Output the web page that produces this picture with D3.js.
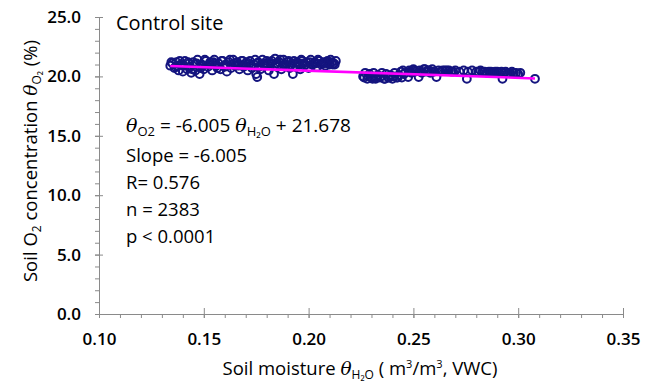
<!DOCTYPE html>
<html>
<head>
<meta charset="utf-8">
<script src="https://cdn.jsdelivr.net/npm/d3@7"></script>
<style>
  body { margin: 0; background: #fff; }
  svg { display: block; }
  text { font-family: "Open Sans", sans-serif; fill: #000; }
</style>
</head>
<body>
<svg id="chart" width="654" height="384"></svg>
<script>
// soil moisture (m3/m3) and O2 (%)
const moisture = [
  0.134, 0.135, 0.136, 0.137, 0.138, 0.139, 0.140, 0.141, 0.142, 0.143,
  0.144, 0.145, 0.146, 0.147, 0.148, 0.149, 0.150, 0.151, 0.152, 0.153,
  0.154, 0.155, 0.156, 0.157, 0.158, 0.159, 0.160, 0.161, 0.162, 0.163,
  0.164, 0.165, 0.166, 0.167, 0.168, 0.169, 0.170, 0.171, 0.172, 0.173,
  0.174, 0.175, 0.1755, 0.176, 0.177, 0.178, 0.179, 0.180, 0.181, 0.182,
  0.1835, 0.184, 0.185, 0.186, 0.187, 0.188, 0.189, 0.190, 0.191, 0.1925,
  0.193, 0.194, 0.195, 0.196, 0.197, 0.198, 0.199, 0.200, 0.201, 0.202,
  0.203, 0.204, 0.205, 0.206, 0.207, 0.208, 0.209, 0.210, 0.211, 0.212,
  0.213,
  0.1345, 0.1365, 0.1385, 0.1405, 0.1425, 0.1445, 0.1465, 0.1485, 0.1505, 0.1525,
  0.1545, 0.1565, 0.1585, 0.1605, 0.1625, 0.1645, 0.1665, 0.1685, 0.1705, 0.1725,
  0.1745, 0.1765, 0.1785, 0.1805, 0.1825, 0.1845, 0.1865, 0.1885, 0.1905, 0.1925,
  0.1945, 0.1965, 0.1985, 0.2005, 0.2025, 0.2045, 0.2065, 0.2085, 0.2105, 0.2125,
  0.1375, 0.1395, 0.1435, 0.1455, 0.1495, 0.1535, 0.1555, 0.1595, 0.1635, 0.1655,
  0.1695, 0.1715, 0.1755, 0.1795, 0.1815, 0.1855, 0.1875, 0.1915, 0.1955, 0.1975,
  0.2015, 0.2035, 0.2075, 0.2095, 0.2115,
  // wetter cluster
  0.226, 0.227, 0.228, 0.229, 0.230, 0.231, 0.232, 0.233, 0.234, 0.235,
  0.236, 0.237, 0.238, 0.239, 0.240, 0.241, 0.242, 0.243, 0.244, 0.245,
  0.246, 0.2475, 0.248, 0.249, 0.250, 0.251, 0.2525, 0.253, 0.254, 0.255,
  0.256, 0.257, 0.258, 0.259, 0.260, 0.261, 0.262, 0.263, 0.264, 0.266,
  0.268, 0.270, 0.272, 0.274, 0.2755, 0.276, 0.278, 0.280, 0.281, 0.282,
  0.283, 0.284, 0.285, 0.286, 0.287, 0.288, 0.289, 0.290, 0.291, 0.292,
  0.2925, 0.293, 0.294, 0.295, 0.296, 0.297, 0.298, 0.299, 0.300, 0.301,
  0.308,
  0.2265, 0.2285, 0.2305, 0.2325, 0.2345, 0.2365, 0.2385, 0.2405, 0.2425, 0.2445,
  0.2455, 0.2485, 0.2505, 0.2535, 0.2555, 0.2575, 0.2595, 0.265, 0.267, 0.269
];
const o2 = [
  20.9, 21.1, 20.7, 21.2, 20.5, 21.0, 20.4, 21.3, 20.6, 21.1,
  20.3, 21.2, 20.5, 21.4, 20.2, 21.0, 20.6, 21.3, 20.8, 21.2,
  20.5, 21.4, 20.9, 21.1, 20.6, 21.3, 20.8, 20.4, 21.2, 20.7,
  21.4, 20.9, 21.2, 20.6, 21.3, 20.8, 21.1, 20.5, 21.3, 20.7,
  21.0, 20.2, 19.95, 21.2, 20.6, 21.4, 20.9, 21.3, 20.5, 21.1,
  20.2, 21.5, 20.8, 21.2, 20.6, 21.4, 20.9, 21.2, 20.7, 20.2,
  21.3, 20.8, 21.1, 20.6, 21.3, 20.9, 21.2, 20.7, 21.4, 21.0,
  21.2, 20.8, 21.3, 21.0, 21.2, 20.9, 21.3, 21.0, 21.2, 21.1,
  21.3,
  21.2, 20.8, 21.3, 20.9, 21.2, 20.6, 21.1, 20.7, 21.4, 21.0,
  21.2, 20.7, 21.3, 21.0, 21.4, 21.1, 20.9, 21.3, 21.2, 20.9,
  21.4, 20.8, 21.1, 21.0, 21.3, 21.1, 21.4, 21.0, 21.3, 21.1,
  21.2, 21.4, 21.0, 21.2, 21.1, 21.4, 21.1, 21.2, 21.4, 21.0,
  20.9, 21.0, 20.8, 21.0, 20.9, 21.0, 21.1, 20.9, 21.0, 21.1,
  20.9, 21.0, 21.1, 21.0, 21.2, 21.0, 21.1, 21.0, 21.0, 21.1,
  21.0, 21.1, 21.1, 21.2, 21.0,
  20.0, 20.3, 19.8, 20.2, 19.9, 20.3, 19.8, 20.1, 19.9, 20.3,
  19.8, 20.2, 19.9, 20.1, 19.8, 20.3, 19.9, 20.1, 20.4, 20.5,
  20.3, 19.95, 20.5, 20.3, 20.6, 20.4, 19.95, 20.5, 20.3, 20.6,
  20.4, 20.5, 20.3, 20.6, 20.4, 19.95, 20.5, 20.4, 20.5, 20.5,
  20.4, 20.5, 20.4, 20.5, 19.8, 20.4, 20.5, 20.4, 20.4, 20.5,
  20.4, 20.4, 20.3, 20.4, 20.4, 20.3, 20.4, 20.4, 20.3, 20.4,
  19.8, 20.3, 20.4, 20.3, 20.3, 20.4, 20.3, 20.3, 20.2, 20.3,
  19.8,
  19.9, 20.0, 19.8, 19.9, 20.0, 19.8, 19.9, 20.0, 19.9, 19.9,
  20.2, 20.4, 20.5, 20.4, 20.6, 20.5, 20.4, 20.5, 20.5, 20.4
];

const slope = -6.005;
const intercept = 21.678;

const xMajor = [0.10, 0.15, 0.20, 0.25, 0.30, 0.35];
const yMajor = [0, 5, 10, 15, 20, 25];
const xMinor = d3.range(10, 36).map(v => v / 100);
const yMinor = d3.range(0, 26);

const statLines = ["Slope = -6.005", "R= 0.576", "n = 2383", "p < 0.0001"];

const svg = d3.select("#chart");
const x = d3.scaleLinear().domain([0.10, 0.35]).range([99, 623]);
const y = d3.scaleLinear().domain([0, 25]).range([314, 17]);
const axisColor = "#8a8a8a";

// minor ticks first, outside only
svg.append("g")
  .attr("transform", "translate(0,314)")
  .call(d3.axisBottom(x).tickValues(xMinor).tickSize(4).tickFormat(""))
  .call(g => g.select(".domain").remove())
  .call(g => g.selectAll("line").attr("stroke", axisColor));

svg.append("g")
  .attr("transform", "translate(99,0)")
  .call(d3.axisLeft(y).tickValues(yMinor).tickSize(4).tickFormat(""))
  .call(g => g.select(".domain").remove())
  .call(g => g.selectAll("line").attr("stroke", axisColor));

// major ticks crossing the axis line
const xAxis = svg.append("g")
  .attr("transform", "translate(0,314)")
  .call(d3.axisBottom(x).tickValues(xMajor).tickSizeOuter(0).tickPadding(13)
    .tickFormat(d3.format(".2f")));
xAxis.select(".domain").attr("stroke", axisColor);
xAxis.selectAll(".tick line").attr("stroke", axisColor).attr("y1", -6).attr("y2", 4);
xAxis.selectAll(".tick text").attr("font-size", 17).attr("font-weight", 600)
  .attr("font-family", "Open Sans").attr("fill", "#000");

const yAxis = svg.append("g")
  .attr("transform", "translate(99,0)")
  .call(d3.axisLeft(y).tickValues(yMajor).tickSizeOuter(0).tickPadding(12)
    .tickFormat(d3.format(".1f")));
yAxis.select(".domain").attr("stroke", axisColor);
yAxis.selectAll(".tick line").attr("stroke", axisColor).attr("x1", -4).attr("x2", 4);
yAxis.selectAll(".tick text").attr("font-size", 17).attr("font-weight", 600)
  .attr("font-family", "Open Sans").attr("fill", "#000");

// points
svg.append("g")
  .selectAll("circle")
  .data(d3.zip(moisture, o2))
  .join("circle")
  .attr("cx", d => x(d[0]))
  .attr("cy", d => y(d[1]))
  .attr("r", 3.9)
  .attr("fill", "none")
  .attr("stroke", "#14147f")
  .attr("stroke-width", 2);

// regression line
const [xMin, xMax] = d3.extent(moisture);
svg.append("line")
  .attr("x1", x(xMin)).attr("y1", y(intercept + slope * xMin))
  .attr("x2", x(xMax)).attr("y2", y(intercept + slope * xMax))
  .attr("stroke", "#ff00ff")
  .attr("stroke-width", 2.5);

// title
svg.append("text")
  .attr("x", 116).attr("y", 30)
  .attr("font-family", "Liberation Sans, Arial, sans-serif")
  .attr("font-size", 20)
  .text("Control site");

// equation
const eq = svg.append("text").attr("x", 126).attr("y", 132).attr("font-size", 19);
eq.append("tspan").attr("font-family", "DejaVu Serif").attr("font-style", "italic").text("θ");
eq.append("tspan").attr("font-size", 13).attr("dy", 4).text("O2");
eq.append("tspan").attr("dy", -4).text(" = -6.005 ");
eq.append("tspan").attr("font-family", "DejaVu Serif").attr("font-style", "italic").text("θ");
eq.append("tspan").attr("font-size", 13).attr("dy", 4).text("H₂O");
eq.append("tspan").attr("dy", -4).text(" + 21.678");

svg.append("g")
  .selectAll("text")
  .data(statLines)
  .join("text")
  .attr("x", 126)
  .attr("y", (d, i) => 162 + i * 27)
  .attr("font-size", 18.5)
  .text(d => d);

// x label
const xl = svg.append("text").attr("x", 360).attr("y", 375)
  .attr("text-anchor", "middle").attr("font-size", 18.5);
xl.append("tspan").text("Soil moisture ");
xl.append("tspan").attr("font-family", "DejaVu Serif").attr("font-style", "italic").text("θ");
xl.append("tspan").attr("font-size", 12).attr("dy", 4).text("H₂O");
xl.append("tspan").attr("dy", -4).text(" ( m");
xl.append("tspan").attr("font-size", 11).attr("dy", -7).text("3");
xl.append("tspan").attr("dy", 7).text("/m");
xl.append("tspan").attr("font-size", 11).attr("dy", -7).text("3");
xl.append("tspan").attr("dy", 7).text(", VWC)");

// y label
const yl = svg.append("text")
  .attr("transform", "translate(37,161) rotate(-90)")
  .attr("text-anchor", "middle").attr("font-size", 18.5);
yl.append("tspan").text("Soil O");
yl.append("tspan").attr("font-size", 12).attr("dy", 4).text("2");
yl.append("tspan").attr("dy", -4).text(" concentration ");
yl.append("tspan").attr("font-family", "DejaVu Serif").attr("font-style", "italic").text("θ");
yl.append("tspan").attr("font-size", 12).attr("dy", 4).text("O₂");
yl.append("tspan").attr("dy", -4).text(" (%)");
</script>
</body>
</html>
